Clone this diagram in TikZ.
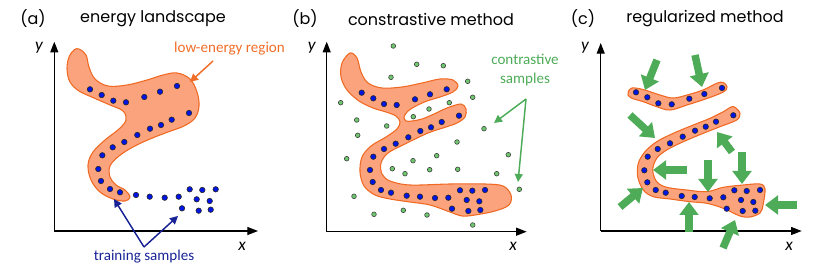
\documentclass[tikz,border=0pt]{standalone}
\usepackage{fontspec}
\setmainfont{Carlito}
\newfontfamily\titlefont{Poppins}
\usetikzlibrary{arrows.meta}
\definecolor{blobfill}{RGB}{250,163,125}
\definecolor{blobline}{RGB}{240,105,35}
\definecolor{dotblue}{RGB}{0,20,230}
\definecolor{dotgreen}{RGB}{110,200,110}
\definecolor{arrgreen}{RGB}{78,172,88}
\definecolor{navy}{RGB}{25,35,150}
\definecolor{orangetxt}{RGB}{240,110,40}
\begin{document}
\begin{tikzpicture}[x=0.75pt,y=-0.75pt,
  blob/.style={fill=blobfill,draw=blobline,line width=0.8pt},
  bdot/.style={fill=dotblue,draw=black!85,line width=0.45pt},
  gdot/.style={fill=dotgreen,draw=black!75,line width=0.45pt},
  axis/.style={line width=0.9pt,-{Triangle[length=8pt,width=6pt]}},
  bigarrow/.style={draw=arrgreen,fill=arrgreen,line width=5.6pt,-{Triangle[length=9.75pt,width=14pt]}},
  thinarrow/.style={line width=1.1pt,-{Triangle[length=6pt,width=6pt]}},
  ttl/.style={font=\titlefont\fontsize{12}{14}\selectfont,inner sep=0pt},
  axlabel/.style={font=\itshape\fontsize{13}{15}\selectfont,inner sep=0pt},
  lbl/.style={font=\fontsize{11.3}{14.2}\selectfont,inner sep=0pt,align=center}]
\useasboundingbox (0,0) rectangle (830,277);

% ---------- titles
\node[ttl] (ta) at (33,19) {(a)};
\node[ttl] (tta) at (153,19) {energy landscape};
\node[ttl] (tb) at (305,19) {(b)};
\node[ttl] (ttb) at (431,19) {constrastive method};
\node[ttl] (tc) at (583,19) {(c)};
\node[ttl] (ttc) at (705,19) {regularized method};

% ---------- axes
\coordinate (oa) at (54.3,231);
\coordinate (ya) at (54.3,41.7);
\coordinate (xa) at (258,231);
\draw[axis] (oa) -- (ya);
\draw[axis] (oa) -- (xa);
\node[axlabel] (lya) at (39,48) {y};
\node[axlabel] (lxa) at (242,246) {x};

\coordinate (ob) at (326.7,231.7);
\coordinate (yb) at (326.7,41.7);
\coordinate (xb) at (526.7,231.7);
\draw[axis] (ob) -- (yb);
\draw[axis] (ob) -- (xb);
\node[axlabel] (lyb) at (311.7,48) {y};
\node[axlabel] (lxb) at (513,246) {x};

\coordinate (oc) at (600.7,231);
\coordinate (yc) at (600.7,43);
\coordinate (xc) at (801.7,231);
\draw[axis] (oc) -- (yc);
\draw[axis] (oc) -- (xc);
\node[axlabel] (lyc) at (585,48) {y};
\node[axlabel] (lxc) at (789,246) {x};

% ---------- panel (a)
\draw[blob] plot[smooth cycle,tension=0.6] coordinates {
 (79,49) (86,55) (89,67) (95,79) (108,86) (127,85) (147,80) (163,75) (177,73)
 (190,79) (197,92) (199,106) (195,118) (184,126) (168,132) (150,139) (133,147)
 (119,156) (110,166) (110,177) (116,185) (125,190) (130,197) (125,201) (113,199)
 (100,192) (91,180) (88,165) (93,152) (105,140) (119,129) (126,120) (123,111)
 (110,105) (94,98) (79,91) (70,82) (67,69) (69,57) (74,50)};
\foreach \p in {(90,89.3),(101.7,95),(113.3,100.7),(126,102.3),(144.3,97),(160,91.7),
 (177,86),(189,113),(171.7,119.7),(161,125),(150,128.7),(137.3,135),(124.3,142),
 (112.7,147.3),(102.3,155.3),(98.3,169),(101,181),(110,189),(120,192.3),(136,195),
 (149.7,196.7),(164.7,197.7),(178.7,196.7),(189.7,189.3),(202.3,190),(215.7,189.3),
 (196.7,199.3),(209.7,201),(182,208.3),(198.7,210.7),(210.7,209.7)}
 \filldraw[bdot] \p circle[radius=2.05pt];

\node[lbl,text=orangetxt] (lowlbl) at (229.5,49) {low-energy region};
\coordinate (lowtail) at (213,61);
\coordinate (lowtip) at (190,82);
\draw[thinarrow,draw=orangetxt,fill=orangetxt] (lowtail) -- (lowtip);

\node[lbl,text=navy] (trlbl) at (144,257) {training samples};
\coordinate (trtail) at (144,247);
\coordinate (trtip1) at (114,199);
\coordinate (trtip2) at (178,216);
\draw[thinarrow,draw=navy,fill=navy] (trtail) -- (trtip1);
\draw[thinarrow,draw=navy,fill=navy] (trtail) -- (trtip2);

% ---------- panel (b)
\draw[blob] plot[smooth cycle,tension=0.55] coordinates {
 (350,53) (357,58) (361,72) (368,83) (382,88) (402,87) (422,83) (440,79) (453,80)
 (458,86) (453,92) (440,97) (427,101) (416,106) (408,111) (404,117) (406,121)
 (412,121) (422,119) (434,114) (447,108) (461,104) (466,109) (465,117) (457,123)
 (446,127) (428,133) (405,144) (388,153) (381,163) (382,174) (390,181) (410,185)
 (450,184) (485,184) (503,186) (511,195) (509,205) (495,211) (475,215) (462,216)
 (450,212) (430,205) (410,202) (390,199) (375,195) (364,186) (360,172) (362,157)
 (371,146) (386,137) (397,129) (400,122) (396,116) (386,112) (373,108) (359,101)
 (347,90) (341,77) (342,63)};
\foreach \p in {(361.7,92.7),(373.3,98.3),(384,104),(396.7,105),(415,99.3),(430,94.3),
 (446.7,89.3),(459,115.7),(441.7,122),(431,127.3),(420.3,131),(408.3,137.3),(395.7,143.7),
 (384,149),(373.3,156.7),(370,170),(372.7,182),(381,190),(391,192.7),(406.7,195.7),
 (420,196.7),(435,198),(448.3,197.7),(460,190.3),(472.3,190.7),(485,190),(466.7,200),
 (479.3,201.3),(452,208.7),(468.3,211),(480.3,210)}
 \filldraw[bdot] \p circle[radius=2.05pt];
\foreach \p in {(393.3,46),(416.7,64.3),(443.3,65.7),(391,77.3),(467.7,81.3),(472.7,97.3),
 (340.7,102.7),(449.3,102.7),(429,109),(413.3,116.7),(356.7,120),(386.7,126),(357.7,135.3),
 (484,128.7),(457,142),(436.7,155.7),(508.3,154.7),(346.7,158.7),(413,160.7),(392.3,168.7),
 (429.7,169.7),(457.7,169.3),(405,173.7),(496.7,173.7),(519.3,189.3),(354,196.3),
 (374,214.3),(403.3,210.3),(427,215),(472.7,225)}
 \filldraw[gdot] \p circle[radius=1.75pt];

\node[lbl,text=arrgreen] (conlbl) at (525,70) {contrastive\\samples};
\coordinate (contail) at (526,99);
\coordinate (contip1) at (494,123);
\coordinate (contip2) at (518,182);
\draw[thinarrow,draw=arrgreen,fill=arrgreen] (contail) -- (contip1);
\draw[thinarrow,draw=arrgreen,fill=arrgreen] (contail) -- (contip2);

% ---------- panel (c)
\draw[blob] plot[smooth cycle,tension=0.6] coordinates {
 (628.3,91.7) (632,88) (643,89.5) (660,95) (673,98) (687,95) (703,90) (716.7,83.3)
 (723.3,82.5) (727,87) (723.3,92) (707,98.5) (687,105) (670,110) (656.7,106.7)
 (643.3,101.7) (632,98.3) (628,95)};
\draw[blob] plot[smooth cycle,tension=0.55] coordinates {
 (735,107.3) (740,113.3) (736.7,120) (720,126.7) (703.3,133.3) (683.3,141.7)
 (666.7,150) (656.7,158.3) (652.7,170) (656.7,181.7) (666.7,187.3) (686.7,190)
 (706.7,191.7) (723.3,187.3) (743.3,185) (760,184) (765,189) (763,205) (760,213)
 (750,217) (740,216) (723.3,208.3) (706.7,203.3) (690,201.7) (670,199) (653.3,196.7)
 (643.3,190) (637.7,176.7) (638.3,163.3) (645,151.7) (656.7,141.7) (673.3,133.3)
 (693.3,125) (710,118.3) (723.3,111.7) (731,107)};
\foreach \p in {(636,92.3),(647.3,97.3),(658.3,103.3),(671.7,104.3),(689.3,98.7),(704.3,94),
 (722,88),(733.3,115.3),(716,121.7),(705.7,126.7),(695,130.7),(682.7,136.7),(670,143.3),
 (657.7,149),(647.7,156.7),(644.3,170.3),(647.3,182.3),(655.7,190),(665.7,192.7),
 (681.7,196),(694.7,197),(709.7,198.3),(723.3,197.3),(734.3,190.3),(746.7,191),(760,190),
 (741,200),(753.3,202),(726.7,208.7),(742.7,211),(755.3,210.7)}
 \filldraw[bdot] \p circle[radius=2.05pt];

\foreach \ax/\ay/\bx/\by in {657/60/645/90,695/55/702/87,630/115/655/138,
 732/152/717/132,687/170/653/170,708/160/708/192,742/152/742/184,
 620/207/643/188,689/232/689/202,723/248/735/220,797/205/765/205}
 \draw[bigarrow] (\ax,\ay) -- (\bx,\by);
\end{tikzpicture}
\end{document}
